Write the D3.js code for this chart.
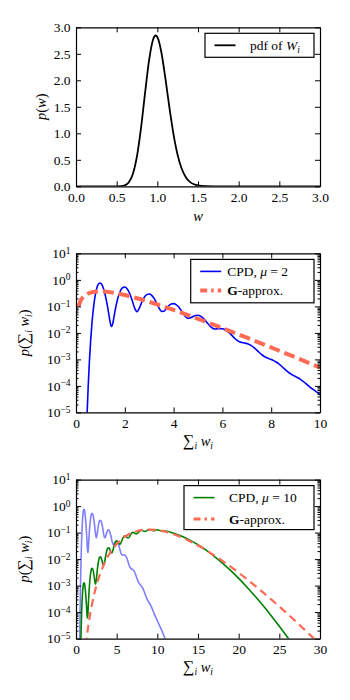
<!DOCTYPE html>
<html>
<head>
<meta charset="utf-8">
<script src="https://cdn.jsdelivr.net/npm/d3@7"></script>
<style>
body { margin: 0; background: #fff; }
svg text { font-family: "Liberation Serif", "DejaVu Serif", serif; font-size: 13.5px; fill: #000; white-space: pre; }
</style>
</head>
<body>
<div id="chart"></div>
<script>
// ---- data ----
// pdf of a single weight W_i
const PDF_W = [0, 0.4, 0.5, 0.55, 0.6, 0.65, 0.7, 0.75, 0.8, 0.85, 0.9, 0.95, 0.98, 1.0, 1.05, 1.1, 1.15, 1.2, 1.25, 1.3, 1.35, 1.4, 1.45, 1.5, 1.6, 1.7, 1.8, 3.0]
const PDF_P = [0, 0, 0.0004, 0.0032, 0.018, 0.076, 0.237, 0.571, 1.107, 1.772, 2.394, 2.779, 2.845, 2.816, 2.525, 2.025, 1.468, 0.970, 0.588, 0.330, 0.172, 0.084, 0.039, 0.017, 0.003, 0.0004, 0, 0]

// compound distribution, mu = 2  [sum w, p]
const CPD2 = [
    [0.45, 6.8e-6], [0.5, 9.8e-5], [0.55, 8.6e-4], [0.6, 0.00498], [0.65, 0.02065], [0.7, 0.064], [0.75, 0.1545],
    [0.8, 0.2996], [0.85, 0.4796], [0.9, 0.648], [0.95, 0.752], [1.0, 0.762], [1.05, 0.683], [1.1, 0.548],
    [1.15, 0.397], [1.2, 0.2625], [1.25, 0.159], [1.3, 0.0896], [1.35, 0.0475], [1.4, 0.0254], [1.45, 0.0175],
    [1.5, 0.0211], [1.55, 0.0367], [1.6, 0.0674], [1.7, 0.1815], [1.8, 0.3507], [1.9, 0.499], [2.0, 0.5395],
    [2.1, 0.4553], [2.2, 0.3074], [2.3, 0.1715], [2.4, 0.0881], [2.5, 0.063], [2.6, 0.0879], [2.7, 0.1487],
    [2.8, 0.2225], [2.9, 0.2788], [3.0, 0.2934], [3.1, 0.2622], [3.2, 0.2015], [3.3, 0.1368], [3.4, 0.0883],
    [3.5, 0.0649], [3.6, 0.0656], [3.7, 0.0828], [3.8, 0.1057], [3.9, 0.1231], [4.0, 0.1275], [4.1, 0.1171],
    [4.2, 0.0965], [4.3, 0.0727], [4.4, 0.0525], [4.5, 0.0399], [4.6, 0.0355], [4.7, 0.0372], [4.8, 0.0417],
    [4.9, 0.0455], [5.0, 0.0461], [5.1, 0.043], [5.2, 0.0371], [5.3, 0.0295], [5.4, 0.0228], [5.5, 0.0178],
    [5.6, 0.01504], [5.7, 0.0141], [5.8, 0.0143], [5.9, 0.01455], [6.0, 0.01437], [6.1, 0.0134], [6.2, 0.0117],
    [6.3, 0.0098], [6.4, 0.00787], [6.5, 0.0063], [6.6, 0.00522], [6.7, 0.00461], [6.8, 0.00432], [6.9, 0.00416],
    [7.0, 0.00397], [7.1, 0.00367], [7.2, 0.00326], [7.3, 0.00278], [7.4, 0.00228], [7.5, 0.00186], [7.6, 0.00154],
    [7.7, 0.00131], [7.8, 0.00117], [7.9, 0.00107], [8.0, 9.9e-4], [8.1, 9.0e-4], [8.2, 8.0e-4], [8.3, 6.9e-4],
    [8.4, 5.75e-4], [8.5, 4.76e-4], [8.6, 3.95e-4], [8.7, 3.29e-4], [8.8, 2.83e-4], [8.9, 2.5e-4], [9.0, 2.24e-4],
    [9.2, 1.76e-4], [9.4, 1.27e-4], [9.6, 8.8e-5], [9.8, 6.5e-5], [10.0, 4.7e-5], [10.5, 2.17e-5], [11.0, 9.2e-6]
]

// gamma approximation, mu = 2
const G2_X = [0.1, 0.2, 0.3, 0.5, 0.7, 1.0, 1.5, 2, 2.5, 3, 3.5, 4, 4.5, 5, 6, 7, 8, 9, 10]
const G2_P = [0.0972, 0.1714, 0.2294, 0.3079, 0.3495, 0.3669, 0.3316, 0.2676, 0.2032, 0.1483, 0.1053, 0.0733, 0.0503, 0.0341, 0.01523, 0.00662, 0.00282, 0.00119, 0.00049]

// compound distribution, mu = 10  [sum w, p]
const CPD10 = [
    [0.55, 1.43e-6], [0.6, 8.4e-6], [0.65, 3.46e-5], [0.7, 1.07e-4], [0.75, 2.59e-4], [0.8, 5.02e-4], [0.85, 8.04e-4],
    [0.9, 1.087e-3], [0.95, 1.262e-3], [1.0, 1.279e-3], [1.05, 1.146e-3], [1.1, 9.19e-4], [1.15, 6.66e-4], [1.2, 4.4e-4],
    [1.25, 2.68e-4], [1.3, 1.52e-4], [1.35, 8.55e-5], [1.4, 6.05e-5], [1.45, 7.67e-5], [1.5, 1.47e-4], [1.6, 5.6e-4],
    [1.7, 1.522e-3], [1.8, 2.94e-3], [1.9, 4.18e-3], [2.0, 4.52e-3], [2.1, 3.82e-3], [2.2, 2.6e-3], [2.3, 1.54e-3],
    [2.4, 1.12e-3], [2.5, 1.66e-3], [2.6, 3.36e-3], [2.7, 6.15e-3], [2.8, 9.3e-3], [2.9, 0.0117], [3.0, 0.01233],
    [3.1, 0.01107], [3.2, 8.71e-3], [3.3, 6.54e-3], [3.4, 5.75e-3], [3.5, 7.14e-3], [3.6, 0.01086], [3.7, 0.0162],
    [3.8, 0.02176], [3.9, 0.0257], [4.0, 0.02685], [4.1, 0.02502], [4.2, 0.0215], [4.3, 0.0182], [4.4, 0.0171],
    [4.5, 0.01945], [4.6, 0.02525], [4.7, 0.03318], [4.8, 0.04115], [4.9, 0.0468], [5.0, 0.0486], [5.2, 0.0424],
    [5.4, 0.03677], [5.5, 0.0397], [5.6, 0.0467], [5.8, 0.0659], [6.0, 0.0751], [6.2, 0.0687], [6.4, 0.0627],
    [6.5, 0.0653], [6.6, 0.0724], [6.8, 0.0917], [7.0, 0.1016], [7.2, 0.096], [7.4, 0.0895], [7.6, 0.0969],
    [8.0, 0.1219], [8.5, 0.1106], [9.0, 0.1315], [9.5, 0.119], [10.0, 0.1289], [10.5, 0.1148], [11, 0.115],
    [12, 0.0948], [13, 0.0729], [14, 0.0521], [15, 0.0347], [16, 0.0217], [17, 0.01277], [18, 0.00709],
    [19, 0.00373], [20, 0.001866], [21, 8.88e-4], [22, 4.04e-4], [23, 1.76e-4], [24, 7.33e-5], [25, 2.93e-5],
    [26, 1.13e-5], [27, 4.2e-6]
]

// gamma approximation, mu = 10
const G10_X = [1.2, 1.5, 2, 2.5, 3, 3.5, 4, 5, 6, 7, 8, 9, 10, 11, 12, 13, 14, 15, 16, 17, 18, 19, 20, 21, 22, 23, 24, 25, 26, 27, 28, 29, 30]
const G10_P = [5.4e-6, 2.87e-5, 2.21e-4, 9.67e-4, 2.95e-3, 7.02e-3, 0.01394, 0.03728, 0.06963, 0.1015, 0.1234, 0.1306, 0.1239, 0.1076, 0.0868, 0.0659, 0.04747, 0.03268, 0.02164, 0.01385, 0.00859, 0.00519, 0.00306, 1.763e-3, 9.96e-4, 5.52e-4, 3.01e-4, 1.62e-4, 8.6e-5, 4.5e-5, 2.32e-5, 1.19e-5, 6.0e-6]

// ticks
const TICKS_LIN = [0, 0.5, 1, 1.5, 2, 2.5, 3]
const TICKS_LOG = [1e-5, 1e-4, 1e-3, 1e-2, 1e-1, 1, 10]
const TICKS_X2 = [0, 2, 4, 6, 8, 10]
const TICKS_X3 = [0, 5, 10, 15, 20, 25, 30]

const RED = "#ff6a55"

// ---- layout ----
const W = 350, H = 700
const MARGIN = { LEFT: 76, RIGHT: 30 }
const PANEL_TOP = [27.3, 253.4, 479.6]
const PANEL_H = 159

const svg = d3.select("#chart").append("svg")
    .attr("width", W)
    .attr("height", H)

function panel(i, xDomain, yDomain, isLog) {
    let p = {}
    p.w = W - MARGIN.LEFT - MARGIN.RIGHT
    p.h = PANEL_H
    p.g = svg.append("g").attr("transform", `translate(${MARGIN.LEFT},${PANEL_TOP[i]})`)
    p.x = d3.scaleLinear().domain(xDomain).range([0, p.w])
    p.y = (isLog ? d3.scaleLog() : d3.scaleLinear()).domain(yDomain).range([p.h, 0])
    p.g.append("clipPath").attr("id", "clip" + i)
        .append("rect").attr("width", p.w).attr("height", p.h)
    p.plot = p.g.append("g").attr("clip-path", `url(#clip${i})`)
    return p
}

function styleAxis(sel) {
    sel.attr("font-family", null).attr("font-size", null)
    sel.selectAll("line").attr("stroke", "#000").attr("stroke-width", 1)
    sel.select(".domain").attr("stroke", "#000").attr("stroke-width", 1.2)
}

function frame(p, xTicks, yTicks, isLog, xFmt, yFmt) {
    let bottom = p.g.append("g").attr("transform", `translate(0,${p.h})`)
        .call(d3.axisBottom(p.x).tickValues(xTicks).tickSize(-5).tickSizeOuter(0).tickPadding(6).tickFormat(xFmt))
    let top = p.g.append("g")
        .call(d3.axisTop(p.x).tickValues(xTicks).tickSize(-5).tickSizeOuter(0).tickFormat(""))
    let left = p.g.append("g")
        .call(d3.axisLeft(p.y).tickValues(yTicks).tickSize(-5).tickSizeOuter(0).tickPadding(5.5).tickFormat(isLog ? "" : yFmt))
    let right = p.g.append("g").attr("transform", `translate(${p.w},0)`)
        .call(d3.axisRight(p.y).tickValues(yTicks).tickSize(-5).tickSizeOuter(0).tickFormat(""))
    ;[bottom, top, left, right].forEach(styleAxis)

    if (isLog) {
        let minor = []
        yTicks.slice(0, -1).forEach(t => d3.range(2, 10).forEach(m => minor.push(t * m)))
        ;[["axisLeft", 0], ["axisRight", p.w]].forEach(([fn, tx]) => {
            let m = p.g.append("g").attr("transform", `translate(${tx},0)`)
                .call(d3[fn](p.y).tickValues(minor).tickSize(-2.5).tickFormat(""))
            m.select(".domain").remove()
            styleAxis(m)
        })
        // 10^k labels, right aligned at the tick padding
        left.selectAll(".tick text").each(function(d) {
            let e = Math.round(Math.log10(d))
            let t = d3.select(this).text("10").attr("x", -5.5).attr("text-anchor", "end")
            t.append("tspan").attr("dy", "-0.45em").attr("font-size", "9.5px")
                .text(e < 0 ? "\u2212" + (-e) : String(e))
        })
    }
}

function mathText(sel, parts) {
    let shift = 0
    parts.forEach(([t, s]) => {
        let ts = sel.append("tspan").text(t)
        let target = s === "sub" ? 3 : 0
        if (target !== shift) { ts.attr("dy", target - shift); shift = target }
        if (s === "i") ts.attr("font-style", "italic")
        if (s === "b") ts.attr("font-weight", "bold")
        if (s === "sub") ts.attr("font-style", "italic").attr("font-size", "9.5px")
        if (s === "big") ts.attr("font-size", "16px")
    })
    return sel
}

function legend(p, width, height, rows) {
    let lg = p.g.append("g").attr("transform", `translate(${p.w - 6 - width},6)`)
    lg.append("rect").attr("width", width).attr("height", height)
        .attr("fill", "#fff").attr("stroke", "#000").attr("stroke-width", 1.2)
    rows.forEach(r => {
        lg.append("line").attr("x1", 9.5).attr("x2", 30.5).attr("y1", r.y).attr("y2", r.y)
            .attr("stroke", r.color).attr("stroke-width", r.width)
            .attr("stroke-dasharray", r.dash || null)
        mathText(lg.append("text").attr("x", r.tx).attr("y", r.y + 4.5), r.parts)
    })
}

function xLabel(p, dy, parts) {
    mathText(p.g.append("text").attr("x", p.w / 2).attr("y", p.h + dy).attr("text-anchor", "middle")
        .style("font-size", "14.5px"), parts)
}

function yLabel(p, x, parts) {
    mathText(p.g.append("text").attr("transform", `translate(${x},${p.h / 2}) rotate(-90)`)
        .attr("text-anchor", "middle").style("font-size", "14.5px"), parts)
}

const fmt1 = d3.format(".1f")
const curve = d3.curveMonotoneX

// ---- panel 1: pdf of W_i ----
let p1 = panel(0, [0, 3], [0, 3], false)
p1.plot.append("path")
    .datum(d3.zip(PDF_W, PDF_P))
    .attr("d", d3.line().x(d => p1.x(d[0])).y(d => p1.y(d[1])).curve(curve))
    .attr("fill", "none").attr("stroke", "#000").attr("stroke-width", 1.8)
frame(p1, TICKS_LIN, TICKS_LIN, false, fmt1, fmt1)
legend(p1, 109, 24, [{ y: 12, color: "#000", width: 1.8, tx: 45, parts: [["pdf of "], ["W", "i"], ["i", "sub"]] }])
xLabel(p1, 35, [["w", "i"]])
yLabel(p1, -30, [["p", "i"], ["("], ["w", "i"], [")"]])

// ---- panel 2: mu = 2 ----
let p2 = panel(1, [0, 10], [1e-5, 10], true)
let line2 = d3.line().x(d => p2.x(d[0])).y(d => p2.y(d[1])).curve(curve)
p2.plot.append("path").datum(CPD2).attr("d", line2)
    .attr("fill", "none").attr("stroke", "#0000ff").attr("stroke-width", 1.6)
p2.plot.append("path").datum(d3.zip(G2_X, G2_P)).attr("d", line2)
    .attr("fill", "none").attr("stroke", RED).attr("stroke-width", 4)
    .attr("stroke-dasharray", "11,5")
frame(p2, TICKS_X2, TICKS_LOG, true, d3.format("d"))
legend(p2, 123.3, 43.4, [
    { y: 12, color: "#0000ff", width: 1.6, tx: 36.5, parts: [["CPD, "], ["\u03bc", "i"], [" = 2"]] },
    { y: 31, color: RED, width: 4, dash: "7,4,2.5,4", tx: 36.5, parts: [["G", "b"], ["-approx."]] }
])
xLabel(p2, 34, [["\u2211", "big"], ["i", "sub"], [" "], ["w", "i"], ["i", "sub"]])
yLabel(p2, -47, [["p", "i"], ["("], ["\u2211", "big"], ["i", "sub"], [" "], ["w", "i"], ["i", "sub"], [")"]])

// ---- panel 3: mu = 10 ----
let p3 = panel(2, [0, 30], [1e-5, 10], true)
let line3 = d3.line().x(d => p3.x(d[0])).y(d => p3.y(d[1])).curve(curve)
p3.plot.append("path").datum(CPD2).attr("d", line3)
    .attr("fill", "none").attr("stroke", "#0000ff").attr("stroke-opacity", 0.5).attr("stroke-width", 1.6)
p3.plot.append("path").datum(CPD10).attr("d", line3)
    .attr("fill", "none").attr("stroke", "#008000").attr("stroke-width", 1.6)
p3.plot.append("path").datum(d3.zip(G10_X, G10_P)).attr("d", line3)
    .attr("fill", "none").attr("stroke", RED).attr("stroke-width", 2.2)
    .attr("stroke-dasharray", "8,5")
frame(p3, TICKS_X3, TICKS_LOG, true, d3.format("d"))
legend(p3, 130, 44, [
    { y: 12, color: "#008000", width: 1.6, tx: 45, parts: [["CPD, "], ["\u03bc", "i"], [" = 10"]] },
    { y: 33.5, color: RED, width: 3, dash: "7,4,2.5,4", tx: 45, parts: [["G", "b"], ["-approx."]] }
])
xLabel(p3, 33, [["\u2211", "big"], ["i", "sub"], [" "], ["w", "i"], ["i", "sub"]])
yLabel(p3, -47, [["p", "i"], ["("], ["\u2211", "big"], ["i", "sub"], [" "], ["w", "i"], ["i", "sub"], [")"]])
</script>
</body>
</html>
